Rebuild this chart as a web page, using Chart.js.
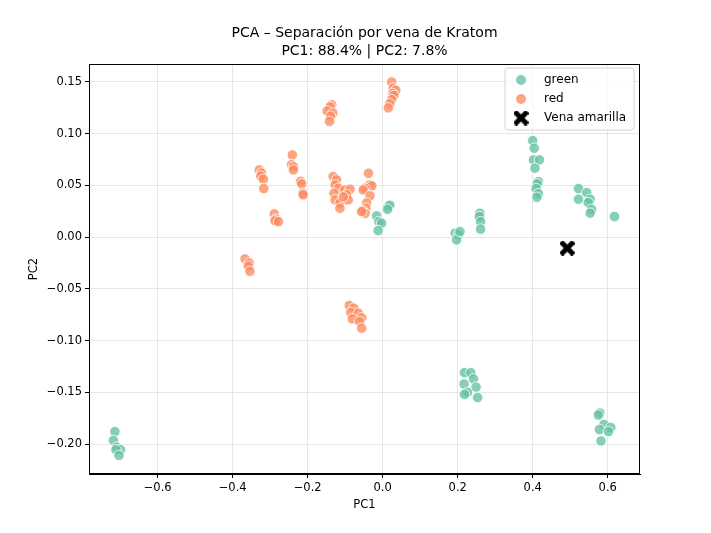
<!DOCTYPE html>
<html>
<head>
<meta charset="utf-8">
<script src="https://cdn.jsdelivr.net/npm/chart.js@4.4.1/dist/chart.umd.min.js"></script>
<style>
  html, body { margin: 0; padding: 0; background: #fff; }
  #wrap { width: 711px; height: 533px; }
</style>
</head>
<body>
<div id="wrap"><canvas id="pca"></canvas></div>
<script>
// PCA scores
const greenX = [-0.714, -0.718, -0.709, -0.699, -0.711, -0.703,
  -0.016, -0.010, -0.003, -0.012, 0.015, 0.019, 0.013,
  0.193, 0.202, 0.197, 0.206,
  0.259, 0.258, 0.261, 0.261,
  0.400, 0.404, 0.402, 0.418, 0.406, 0.415, 0.412, 0.409, 0.415, 0.411,
  0.522, 0.544, 0.522, 0.553, 0.548, 0.557, 0.553, 0.618,
  0.218, 0.235, 0.242, 0.217, 0.249, 0.226, 0.218, 0.253,
  0.579, 0.575, 0.590, 0.608, 0.578, 0.602, 0.582];
const greenY = [-0.188, -0.1965, -0.203, -0.2055, -0.2055, -0.211,
  0.0206, 0.015, 0.0135, 0.0064, 0.0296, 0.031, 0.027,
  0.0039, 0.0022, -0.0026, 0.0054,
  0.0232, 0.020, 0.015, 0.0077,
  0.0933, 0.086, 0.0747, 0.0747, 0.0667, 0.0537, 0.0515, 0.047, 0.042, 0.0386,
  0.047, 0.043, 0.0367, 0.0367, 0.0334, 0.027, 0.0232, 0.020,
  -0.131, -0.131, -0.137, -0.142, -0.145, -0.150, -0.152, -0.155,
  -0.170, -0.172, -0.181, -0.184, -0.186, -0.188, -0.197];

const redX = [0.024, 0.028, 0.035, 0.027, 0.030, 0.024, 0.019, 0.015,
  -0.136, -0.140, -0.148, -0.133, -0.139, -0.142,
  -0.241, -0.243, -0.238, -0.238,
  -0.329, -0.323, -0.325, -0.318, -0.317,
  -0.219, -0.216, -0.213, -0.212,
  -0.289, -0.285, -0.287, -0.278,
  -0.367, -0.356, -0.358, -0.354,
  -0.132, -0.123, -0.127, -0.118, -0.130, -0.127, -0.114, -0.114,
  -0.101, -0.087, -0.096, -0.092, -0.105,
  -0.038, -0.034, -0.029, -0.047, -0.052, -0.034, -0.043, -0.045, -0.053, -0.047, -0.056,
  -0.089, -0.077, -0.085, -0.065, -0.056, -0.081, -0.062, -0.056];
const redY = [0.150, 0.144, 0.142, 0.139, 0.137, 0.133, 0.129, 0.125,
  0.128, 0.126, 0.122, 0.120, 0.117, 0.112,
  0.0795, 0.070, 0.068, 0.065,
  0.065, 0.062, 0.059, 0.056, 0.047,
  0.054, 0.0515, 0.0425, 0.041,
  0.0225, 0.0174, 0.0158, 0.015,
  -0.021, -0.025, -0.028, -0.033,
  0.0586, 0.0554, 0.0505, 0.0473, 0.0425, 0.036, 0.033, 0.028,
  0.0457, 0.0464, 0.041, 0.036, 0.039,
  0.0618, 0.0505, 0.0496, 0.0473, 0.0457, 0.040, 0.033, 0.028, 0.0257, 0.023, 0.0247,
  -0.066, -0.0686, -0.0728, -0.0734, -0.078, -0.079, -0.0815, -0.088];

const amarillaX = [0.492];
const amarillaY = [-0.0106];

const xTicks = [-0.6, -0.4, -0.2, 0.0, 0.2, 0.4, 0.6];
const yTicks = [-0.20, -0.15, -0.10, -0.05, 0.00, 0.05, 0.10, 0.15];

const titleLines = ['PCA \u2013 Separación por vena de Kratom', 'PC1: 88.4% | PC2: 7.8%'];
const FONT = "'DejaVu Sans', sans-serif";

const toPoints = (xs, ys) => xs.map((x, i) => ({ x: x, y: ys[i] }));
const minus = v => v.replace('-', '\u2212');

// filled "X" marker like matplotlib's
function makeXMarker(size) {
  const c = document.createElement('canvas');
  c.width = size; c.height = size;
  const g = c.getContext('2d');
  const s = size / 2, a = size * 0.17;
  g.translate(s, s);
  g.rotate(Math.PI / 4);
  g.fillStyle = '#000';
  g.fillRect(-s * 1.2, -a, s * 2.4, a * 2);
  g.fillRect(-a, -s * 1.2, a * 2, s * 2.4);
  return c;
}
const xMarker = makeXMarker(15);

const GREEN = 'rgba(102,194,165,0.8)';
const RED = 'rgba(252,141,98,0.8)';

const decorPlugin = {
  id: 'decor',
  afterDraw(chart) {
    const { ctx, chartArea: a } = chart;
    ctx.save();
    // frame (matplotlib spines)
    ctx.strokeStyle = '#000';
    ctx.lineWidth = 1;
    ctx.strokeRect(a.left + 0.5, a.top + 0.5, a.right - a.left - 1, a.bottom - a.top - 1);

    // title
    ctx.fillStyle = '#000';
    ctx.font = '14px ' + FONT;
    ctx.textAlign = 'center';
    ctx.textBaseline = 'middle';
    const cx = (a.left + a.right) / 2;
    ctx.fillText(titleLines[0], cx, a.top - 31);
    ctx.fillText(titleLines[1], cx, a.top - 13);

    // legend
    const bw = 129, bh = 62;
    const bx = a.right - 6 - bw, by = a.top + 4;
    ctx.beginPath();
    ctx.roundRect(bx, by, bw, bh, 3);
    ctx.fillStyle = 'rgba(255,255,255,0.8)';
    ctx.fill();
    ctx.strokeStyle = '#d4d4d4';
    ctx.stroke();
    const items = [
      { label: 'green', color: GREEN },
      { label: 'red', color: RED },
      { label: 'Vena amarilla', img: xMarker }
    ];
    ctx.font = '12px ' + FONT;
    ctx.textAlign = 'left';
    items.forEach((it, i) => {
      const y = by + 12 + i * 19;
      const mx = bx + 16;
      if (it.img) {
        ctx.drawImage(it.img, mx - it.img.width / 2, y - it.img.height / 2);
      } else {
        ctx.beginPath();
        ctx.arc(mx, y, 5, 0, Math.PI * 2);
        ctx.fillStyle = it.color;
        ctx.fill();
      }
      ctx.fillStyle = '#000';
      ctx.fillText(it.label, bx + 39, y);
    });
    ctx.restore();
  }
};

const ctx = document.getElementById('pca').getContext('2d');
new Chart(ctx, {
  type: 'scatter',
  data: {
    datasets: [{
      label: 'green',
      data: toPoints(greenX, greenY),
      backgroundColor: GREEN,
      borderColor: '#fff',
      borderWidth: 0.8,
      pointRadius: 5.2
    }, {
      label: 'red',
      data: toPoints(redX, redY),
      backgroundColor: RED,
      borderColor: '#fff',
      borderWidth: 0.8,
      pointRadius: 5.2
    }, {
      label: 'Vena amarilla',
      data: toPoints(amarillaX, amarillaY),
      pointStyle: xMarker,
      pointRadius: 8
    }]
  },
  options: {
    responsive: true,
    maintainAspectRatio: false,
    animation: false,
    layout: { padding: { left: 0, right: 71, top: 64, bottom: 0 } },
    plugins: {
      legend: { display: false },
      tooltip: { enabled: false }
    },
    scales: {
      x: {
        type: 'linear',
        min: -0.783,
        max: 0.686,
        afterFit: s => { s.height = 59; },
        afterBuildTicks: s => { s.ticks = xTicks.map(v => ({ value: v })); },
        ticks: {
          color: '#000',
          padding: 3,
          font: { family: FONT, size: 11.5 },
          callback: v => minus(v.toFixed(1))
        },
        grid: { color: '#e6e6e6', tickColor: '#000', tickLength: 4 },
        border: { color: '#000' },
        title: {
          display: true,
          text: 'PC1',
          color: '#000',
          font: { family: FONT, size: 11.5 },
          padding: { top: 0, bottom: 21 }
        }
      },
      y: {
        type: 'linear',
        min: -0.229,
        max: 0.1674,
        afterFit: s => { s.width = 89; },
        afterBuildTicks: s => { s.ticks = yTicks.map(v => ({ value: v })); },
        ticks: {
          color: '#000',
          padding: 3,
          font: { family: FONT, size: 11.5 },
          callback: v => minus(v.toFixed(2))
        },
        grid: { color: '#e6e6e6', tickColor: '#000', tickLength: 4 },
        border: { color: '#000' },
        title: {
          display: true,
          text: 'PC2',
          color: '#000',
          font: { family: FONT, size: 11.5 },
          padding: { top: 27, bottom: 0 }
        }
      }
    }
  },
  plugins: [decorPlugin]
});
</script>
</body>
</html>
